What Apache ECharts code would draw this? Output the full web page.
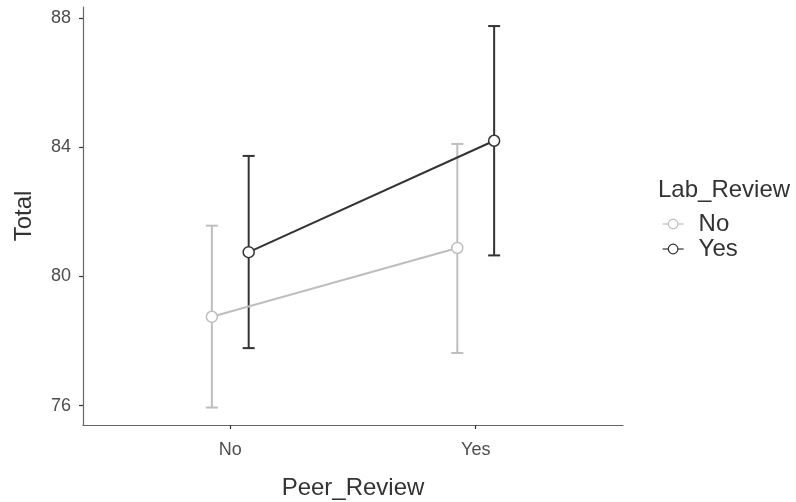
<!DOCTYPE html>
<html>
<head>
<meta charset="utf-8">
<script src="https://cdn.jsdelivr.net/npm/echarts@6/dist/echarts.min.js"></script>
<style>
  html, body { margin: 0; padding: 0; background: #fff; }
  #chart { width: 796px; height: 502px; }
</style>
</head>
<body>
<div id="chart"></div>
<script>
// data
var peerReview = ["No", "Yes"];
var labReview = ["No", "Yes"];
var meanLabNo = [78.75, 80.88];
var lowLabNo = [75.94, 77.63];
var highLabNo = [81.57, 84.1];
var meanLabYes = [80.75, 84.2];
var lowLabYes = [77.78, 80.65];
var highLabYes = [83.73, 87.75];
var yTicks = [76, 80, 84, 88];

var colors = ["#BEBEBE", "#333333"];
var dodge = 0.075;
var font = "Liberation Sans, Arial, sans-serif";

function init_chart(container) {
  var chartDom = document.getElementById(container);
  var myChart = echarts.init(chartDom, null, { renderer: "canvas" });

  function xPos(i, g) {
    return i + 1 + (g === 0 ? -dodge : dodge);
  }

  function lineData(means, g) {
    return means.map(function (v, i) { return [xPos(i, g), v]; });
  }

  function barData(lows, highs, g) {
    return lows.map(function (v, i) { return [xPos(i, g), v, highs[i]]; });
  }

  function errorBars(name, data, color) {
    return {
      name: name,
      type: "custom",
      silent: true,
      z: 2,
      data: data,
      renderItem: function (params, api) {
        var x = api.value(0);
        var lo = api.coord([x, api.value(1)]);
        var hi = api.coord([x, api.value(2)]);
        var half = 6;
        var style = { stroke: color, lineWidth: 2 };
        return {
          type: "group",
          children: [
            { type: "line", shape: { x1: lo[0], y1: lo[1], x2: hi[0], y2: hi[1] }, style: style },
            { type: "line", shape: { x1: lo[0] - half, y1: lo[1], x2: lo[0] + half, y2: lo[1] }, style: style },
            { type: "line", shape: { x1: hi[0] - half, y1: hi[1], x2: hi[0] + half, y2: hi[1] }, style: style }
          ]
        };
      }
    };
  }

  function meanLine(name, data, color) {
    return {
      name: name,
      type: "line",
      z: 3,
      data: data,
      symbol: "circle",
      symbolSize: 11,
      showSymbol: true,
      lineStyle: { color: color, width: 2 },
      itemStyle: { color: "#ffffff", borderColor: color, borderWidth: 1.5 },
      emphasis: { disabled: true }
    };
  }

  var option = {
    animation: false,
    backgroundColor: "#ffffff",
    textStyle: { fontFamily: font },
    title: {
      text: "Lab_Review",
      left: 658,
      top: 178,
      padding: 0,
      textStyle: { fontFamily: font, fontSize: 24, fontWeight: "normal", color: "#333333" }
    },
    legend: {
      orient: "vertical",
      left: 662,
      top: 212,
      padding: 0,
      itemGap: 1,
      itemWidth: 21,
      itemHeight: 12,
      data: [
        { name: labReview[0], itemStyle: { color: "#ffffff", borderColor: colors[0], borderWidth: 1.2 }, lineStyle: { color: colors[0], width: 1.2 } },
        { name: labReview[1], itemStyle: { color: "#ffffff", borderColor: colors[1], borderWidth: 1.2 }, lineStyle: { color: colors[1], width: 1.2 } }
      ],
      textStyle: { fontFamily: font, fontSize: 24, color: "#333333", padding: [0, 0, 0, 10] }
    },
    grid: {
      left: 83,
      right: 173,
      top: 7,
      bottom: 77,
      containLabel: false,
      outerBoundsMode: "none"
    },
    xAxis: {
      type: "value",
      min: 0.4,
      max: 2.6,
      name: "Peer_Review",
      nameLocation: "middle",
      nameGap: 51,
      nameTextStyle: { fontFamily: font, fontSize: 24, color: "#333333" },
      splitLine: { show: false },
      axisLine: { lineStyle: { color: "#666666", width: 1.2 } },
      axisTick: { show: true, length: 4, customValues: [1, 2], lineStyle: { color: "#333333", width: 1.2 } },
      axisLabel: {
        customValues: [1, 2],
        margin: 16,
        fontSize: 18,
        color: "#4D4D4D",
        formatter: function (v) { return peerReview[Math.round(v) - 1]; }
      }
    },
    yAxis: {
      type: "value",
      min: 75.4,
      max: 88.34,
      name: "Total",
      nameLocation: "middle",
      nameGap: 47,
      nameTextStyle: { fontFamily: font, fontSize: 24, color: "#333333" },
      splitLine: { show: false },
      axisLine: { show: true, lineStyle: { color: "#666666", width: 1.2 } },
      axisTick: { show: true, length: 4, customValues: yTicks, lineStyle: { color: "#333333", width: 1.2 } },
      axisLabel: { customValues: yTicks, margin: 12, fontSize: 18, color: "#4D4D4D" }
    },
    series: [
      meanLine(labReview[0], lineData(meanLabNo, 0), colors[0]),
      meanLine(labReview[1], lineData(meanLabYes, 1), colors[1]),
      errorBars(labReview[0], barData(lowLabNo, highLabNo, 0), colors[0]),
      errorBars(labReview[1], barData(lowLabYes, highLabYes, 1), colors[1])
    ]
  };

  option && myChart.setOption(option);
  window.addEventListener("resize", function () {
    myChart.resize();
  });
}

init_chart("chart");
</script>
</body>
</html>
